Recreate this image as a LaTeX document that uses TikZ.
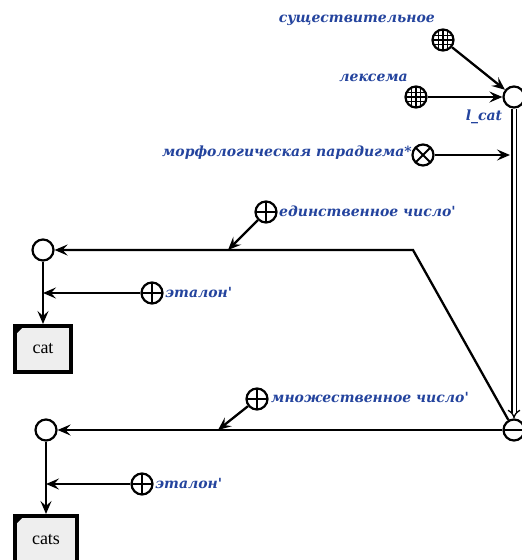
\documentclass[tikz,border=0pt]{standalone}
\usepackage{fontspec}
\setmainfont{Liberation Serif}
\newfontfamily\lblfont{DejaVu Serif}
\usetikzlibrary{arrows.meta}
\definecolor{lblblue}{RGB}{36,68,158}
\definecolor{boxfill}{RGB}{238,238,238}
\begin{document}
\begin{tikzpicture}[x=1pt,y=-1pt,
  conn/.style={line width=2.3pt,-{Stealth[length=13pt,width=11pt,inset=5pt]}},
  dbl/.style={double, double distance=3pt, line width=1.3pt, -{Implies}},
  state/.style={circle, draw, line width=2.2pt, minimum size=21pt, inner sep=0pt, fill=white},
  opgrid/.style={state, path picture={
      \foreach \d in {-4.5,0,4.5}{
        \draw[line width=1.3pt] ([xshift=\d pt]path picture bounding box.north) -- ([xshift=\d pt]path picture bounding box.south);
        \draw[line width=1.3pt] ([yshift=\d pt]path picture bounding box.west) -- ([yshift=\d pt]path picture bounding box.east);
      }}},
  opplus/.style={state, path picture={
      \draw[line width=2pt] (path picture bounding box.north) -- (path picture bounding box.south);
      \draw[line width=2pt] (path picture bounding box.west) -- (path picture bounding box.east);}},
  opx/.style={state, path picture={
      \draw[line width=2pt] (path picture bounding box.north west) -- (path picture bounding box.south east);
      \draw[line width=2pt] (path picture bounding box.south west) -- (path picture bounding box.north east);}},
  opminus/.style={state, path picture={
      \draw[line width=2pt] (path picture bounding box.west) -- (path picture bounding box.east);}},
  wordbox/.style={draw, line width=4pt, fill=boxfill, inner sep=0pt, font=\fontsize{18}{20}\selectfont},
  lbl/.style={font=\lblfont\bfseries\itshape\fontsize{14}{16}\selectfont, text=lblblue, inner sep=0pt}
]
\useasboundingbox (0,0) rectangle (522,560);
\fill[white] (0,0) rectangle (522,560);

% operator and state nodes
\node[opgrid] (sush) at (443,40) {};
\node[opgrid] (lex) at (416,97) {};
\node[state] (lcat) at (514,97) {};
\node[opx] (morph) at (423,155) {};
\node[opminus] (minus) at (514,430) {};
\node[state] (sg) at (43,250) {};
\node[opplus] (sgplus) at (266,212) {};
\node[opplus] (et1) at (152,293) {};
\node[wordbox, minimum width=56pt, minimum height=46pt] (cat) at (43,349) {cat};
\node[state] (pl) at (46,430) {};
\node[opplus] (plplus) at (257,399) {};
\node[opplus] (et2) at (142,484) {};
\node[wordbox, minimum width=62pt, minimum height=48pt] (cats) at (46,540) {cats};

% corner marks of the word boxes
\fill (cat.north west) -- ++(13,0) -- ++(-13,13) -- cycle;
\fill (cats.north west) -- ++(13,0) -- ++(-13,13) -- cycle;

% labels
\node[lbl, anchor=east] (lsush) at (435,20) {существительное};
\node[lbl, anchor=east] (llex) at (408,78) {лексема};
\node[lbl] (llcat) at (484,117) {l\_cat};
\node[lbl, anchor=east] (lmorph) at (412,153) {морфологическая парадигма*};
\node[lbl, anchor=west] (lsg) at (279,211) {единственное число'};
\node[lbl, anchor=west] (let1) at (165,292) {эталон'};
\node[lbl, anchor=west] (lpl) at (271,397) {множественное число'};
\node[lbl, anchor=west] (let2) at (155,483) {эталон'};

% junction points
\coordinate (mpend) at (510,155);
\coordinate (bend) at (413,250);
\coordinate (sgj) at (228,250);
\coordinate (et1j) at (43,293);
\coordinate (plj) at (218,430);
\coordinate (et2j) at (46,484);

% connectors
\draw[conn] (sush) -- (lcat);
\draw[conn] (lex) -- (lcat);
\draw[dbl] (lcat) -- (minus);
\draw[conn] (morph) -- (mpend);
\draw[conn] (minus) -- (bend) -- (sg);
\draw[conn] (sgplus) -- (sgj);
\draw[conn] (et1) -- (et1j);
\draw[conn] (sg) -- (cat);
\draw[conn] (minus) -- (pl);
\draw[conn] (plplus) -- (plj);
\draw[conn] (et2) -- (et2j);
\draw[conn] (pl) -- (cats);
\end{tikzpicture}
\end{document}
